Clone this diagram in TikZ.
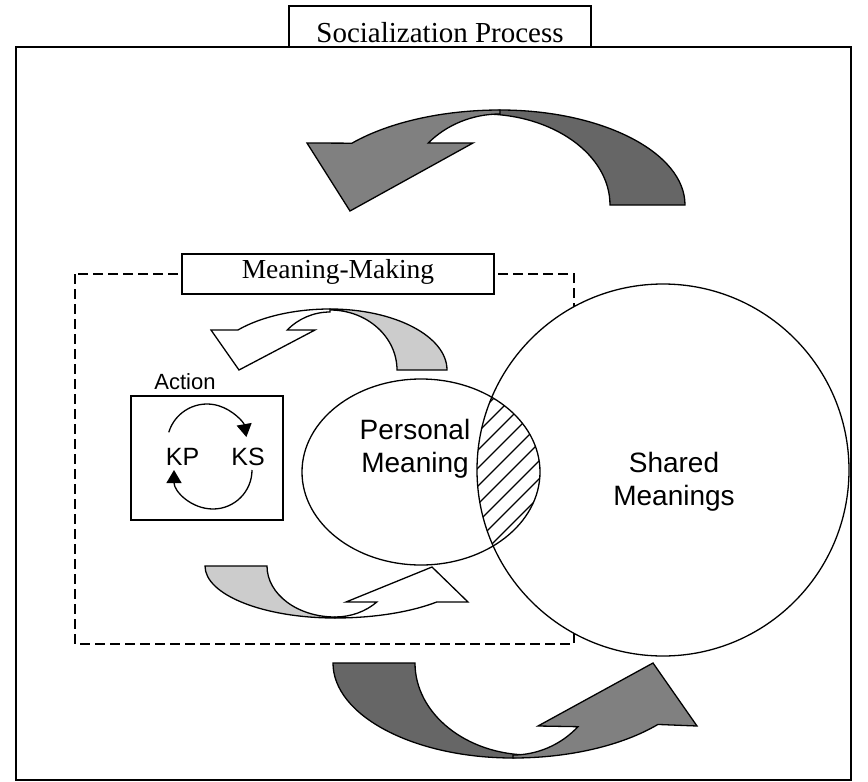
\documentclass[tikz,border=0pt]{standalone}
\usepackage{fontspec}
\setmainfont{Liberation Serif}
\newfontfamily\arialfont{Liberation Sans}
\usetikzlibrary{arrows.meta}
\definecolor{darkarrow}{HTML}{666666}
\definecolor{midarrow}{HTML}{808080}
\definecolor{lightarrow}{HTML}{CCCCCC}
\begin{document}
\begin{tikzpicture}[x=1pt,y=-1pt,
  outline/.style={draw=black,line width=1.3pt,line join=miter},
  bigtail/.style={outline,fill=darkarrow},
  bighead/.style={outline,fill=midarrow},
  smalltail/.style={outline,fill=lightarrow},
  smallhead/.style={outline,fill=white},
  labelbox/.style={outline,fill=white},
  serifbig/.style={font=\fontsize{29}{34}\selectfont},
  serifmid/.style={font=\fontsize{27.5}{32}\selectfont},
  sanslabel/.style={font=\arialfont\fontsize{28}{33}\selectfont,align=center},
  cycarrow/.style={line width=1.3pt,-{Triangle[length=13pt,width=15pt]}}]
\useasboundingbox (0,0) rectangle (868,782);
% outer frame
\draw[outline] (16,47) rectangle (851,780);
% title
\draw[labelbox] (289,6) rectangle (591,47);
\node[serifbig,anchor=base] (title) at (440,42) {Socialization Process};
% top big arrow
\filldraw[bigtail] ([shift={(500,205)}]-90:185 and 95) arc[start angle=-90,end angle=0,x radius=185,y radius=95]
  -- ([shift={(483,205)}]0:127 and 91) arc[start angle=0,end angle=-90,x radius=127,y radius=91] -- cycle;
\filldraw[bighead] ([shift={(500,205)}]-90:195 and 95) arc[start angle=-90,end angle=-139.4,x radius=195,y radius=95]
  -- (307,143) -- (350,211) -- (473,143)
  -- ([shift={(500,205)}]-137.1:98 and 91) arc[start angle=-137.1,end angle=-90,x radius=98,y radius=91] -- cycle;
% dashed region
\draw[line width=1.3pt,dash pattern=on 10pt off 5pt] (75,274) rectangle (574,644);
\draw[labelbox] (182,254) rectangle (494,294);
\node[serifmid,anchor=base] (mm) at (338,278) {Meaning-Making};
% middle top arrow
\filldraw[smalltail] ([shift={(330,370)}]-90:117 and 61) arc[start angle=-90,end angle=0,x radius=117,y radius=61]
  -- ([shift={(330,370)}]0:67 and 60) arc[start angle=0,end angle=-90,x radius=67,y radius=60] -- cycle;
\filldraw[smallhead] ([shift={(330,370)}]-90:122 and 61) arc[start angle=-90,end angle=-139,x radius=122,y radius=61]
  -- (211,330) -- (239,370) -- (315,330)
  -- ([shift={(330,370)}]-136.4:59 and 58) arc[start angle=-136.4,end angle=-90,x radius=59,y radius=58] -- cycle;
% middle bottom arrow
\filldraw[smalltail] ([shift={(335,566)}]180:130 and 52) arc[start angle=180,end angle=90,x radius=130,y radius=52]
  -- ([shift={(335,566)}]90:68 and 51) arc[start angle=90,end angle=180,x radius=68,y radius=51] -- cycle;
\filldraw[smallhead] ([shift={(335,566)}]90:141 and 52) arc[start angle=90,end angle=43.7,x radius=141,y radius=52]
  -- (468,602) -- (432,567) -- (346,602)
  -- ([shift={(335,566)}]44.8:59 and 51) arc[start angle=44.8,end angle=90,x radius=59,y radius=51] -- cycle;
% action box
\node[font=\arialfont\fontsize{22}{26}\selectfont,anchor=base] (action) at (185,389) {Action};
\draw[outline] (131,396) rectangle (283,520);
\node[font=\arialfont\fontsize{25}{30}\selectfont,anchor=base] (kp) at (182.5,465) {KP};
\node[font=\arialfont\fontsize{25}{30}\selectfont,anchor=base] (ks) at (248,465) {KS};
\draw[cycarrow] ([shift={(207,444)}]197:40) arc[start angle=197,end angle=350,radius=40];
\draw[cycarrow] ([shift={(213,470)}]0:39) arc[start angle=0,end angle=180,radius=39];
% meanings
\fill[white] (421,472) ellipse[x radius=119,y radius=93];
\fill[white] (663,470) circle[radius=186];
\begin{scope}
  \clip (421,472) ellipse[x radius=119,y radius=93];
  \clip (663,470) circle[radius=186];
  \foreach \c in {820,838,...,1140} {
    \draw[line width=1.2pt] (\c-700,700) -- (\c-300,300);
  }
\end{scope}
\draw[outline] (421,472) ellipse[x radius=119,y radius=93];
\draw[outline] (663,470) circle[radius=186];
\node[sanslabel] (personal) at (415,449) {Personal\\Meaning};
\node[sanslabel] (shared) at (674,482) {Shared\\Meanings};
% bottom big arrow
\filldraw[bigtail] ([shift={(513,663)}]180:180 and 95) arc[start angle=180,end angle=90,x radius=180,y radius=95]
  -- ([shift={(530,663)}]90:115 and 92) arc[start angle=90,end angle=180,x radius=115,y radius=92] -- cycle;
\filldraw[bighead] ([shift={(513,663)}]90:190 and 95) arc[start angle=90,end angle=40.3,x radius=190,y radius=95]
  -- (697,726) -- (653,663) -- (538,726)
  -- ([shift={(513,663)}]43.8:90 and 92) arc[start angle=43.8,end angle=90,x radius=90,y radius=92] -- cycle;
\end{tikzpicture}
\end{document}
